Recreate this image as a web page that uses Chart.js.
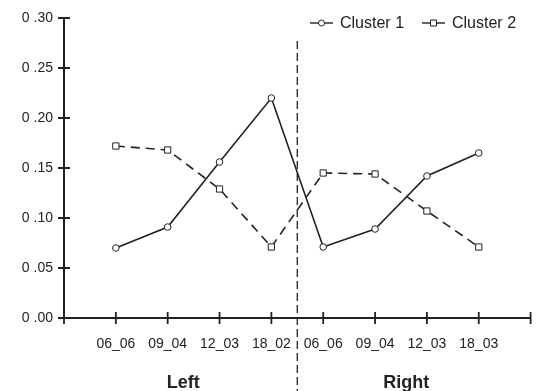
<!DOCTYPE html>
<html>
<head>
<meta charset="utf-8">
<script src="https://cdn.jsdelivr.net/npm/chart.js@4.4.0/dist/chart.umd.min.js"></script>
<style>
  html, body { margin: 0; padding: 0; background: #fff; }
  #wrap { width: 536px; height: 391px; position: relative; }
</style>
</head>
<body>
<div id="wrap"><canvas id="clusterChart"></canvas></div>
<script>
// datos
const etiquetasX = ['06_06', '09_04', '12_03', '18_02', '06_06', '09_04', '12_03', '18_03'];
const grupos = ['Left', 'Right'];
const cluster1 = [0.070, 0.091, 0.156, 0.220, 0.071, 0.089, 0.142, 0.165];
const cluster2 = [0.172, 0.168, 0.129, 0.071, 0.145, 0.144, 0.107, 0.071];
const nombresSeries = ['Cluster 1', 'Cluster 2'];
const ticksY = [0, 0.05, 0.10, 0.15, 0.20, 0.25, 0.30];

const INK = '#222';
const FUENTE = '"Liberation Sans", Arial, sans-serif';

function aPuntos(valores) {
    return valores.map((v, i) => ({ x: i + 1, y: v }));
}

// marcas de escala que cruzan el eje, separador punteado, grupos y leyenda
const extras = {
    id: 'extras',
    afterDraw(chart) {
        const ctx = chart.ctx;
        const x = chart.scales.x;
        const y = chart.scales.y;
        const area = chart.chartArea;

        ctx.save();
        ctx.strokeStyle = INK;
        ctx.lineWidth = 1.8;
        ctx.beginPath();
        x.ticks.forEach(t => {
            const px = x.getPixelForValue(t.value);
            ctx.moveTo(px, area.bottom - 6);
            ctx.lineTo(px, area.bottom + 6);
        });
        y.ticks.forEach(t => {
            const py = y.getPixelForValue(t.value);
            ctx.moveTo(area.left - 6, py);
            ctx.lineTo(area.left + 6, py);
        });
        ctx.stroke();

        // linea divisoria
        const xm = x.getPixelForValue(4.5);
        ctx.lineWidth = 1.3;
        ctx.setLineDash([8, 4]);
        ctx.beginPath();
        ctx.moveTo(xm, 41);
        ctx.lineTo(xm, chart.height);
        ctx.stroke();
        ctx.setLineDash([]);

        // nombres de grupo
        ctx.fillStyle = INK;
        ctx.font = 'bold 18px ' + FUENTE;
        ctx.textAlign = 'center';
        ctx.textBaseline = 'alphabetic';
        ctx.fillText(grupos[0], x.getPixelForValue(2.3), 388);
        ctx.fillText(grupos[1], x.getPixelForValue(6.6), 388);

        // leyenda
        ctx.font = '16px ' + FUENTE;
        ctx.textAlign = 'left';
        ctx.textBaseline = 'middle';
        const ly = 23;
        const items = [
            { x0: 310, estilo: 'circle', texto: nombresSeries[0] },
            { x0: 422, estilo: 'rect', texto: nombresSeries[1] }
        ];
        items.forEach(it => {
            ctx.lineWidth = 1.4;
            ctx.strokeStyle = INK;
            ctx.beginPath();
            ctx.moveTo(it.x0, ly);
            ctx.lineTo(it.x0 + 23, ly);
            ctx.stroke();
            ctx.fillStyle = '#fff';
            ctx.lineWidth = 1;
            ctx.beginPath();
            if (it.estilo === 'circle') {
                ctx.arc(it.x0 + 11.5, ly, 3, 0, Math.PI * 2);
            } else {
                ctx.rect(it.x0 + 8.5, ly - 3, 6, 6);
            }
            ctx.fill();
            ctx.stroke();
            ctx.fillStyle = INK;
            ctx.fillText(it.texto, it.x0 + 30, ly + 1);
        });
        ctx.restore();
    }
};

document.addEventListener('DOMContentLoaded', function() {
    const ctx = document.getElementById('clusterChart').getContext('2d');

    new Chart(ctx, {
        type: 'line',
        data: {
            datasets: [
                {
                    label: nombresSeries[0],
                    data: aPuntos(cluster1),
                    borderColor: INK,
                    borderWidth: 1.6,
                    pointStyle: 'circle',
                    pointRadius: 3.3,
                    pointBackgroundColor: '#fff',
                    pointBorderColor: INK,
                    pointBorderWidth: 1,
                    tension: 0
                },
                {
                    label: nombresSeries[1],
                    data: aPuntos(cluster2),
                    borderColor: INK,
                    borderWidth: 1.6,
                    borderDash: [9, 6],
                    pointStyle: 'rect',
                    pointRadius: 4.4,
                    pointBackgroundColor: '#fff',
                    pointBorderColor: INK,
                    pointBorderWidth: 1,
                    tension: 0
                }
            ]
        },
        options: {
            responsive: true,
            maintainAspectRatio: false,
            animation: false,
            layout: { padding: { top: 18, right: 5, left: 0, bottom: 0 } },
            plugins: {
                legend: { display: false },
                tooltip: { enabled: false }
            },
            scales: {
                x: {
                    type: 'linear',
                    min: 0,
                    max: 9,
                    // marcas ocultas: tickLength solo separa las etiquetas del eje
                    grid: { display: false, drawTicks: true, tickLength: 18 },
                    border: { display: true, color: INK, width: 2 },
                    ticks: {
                        stepSize: 1,
                        padding: 0,
                        color: INK,
                        font: { family: FUENTE, size: 14 },
                        maxRotation: 0,
                        autoSkip: false,
                        callback: function(value) {
                            return etiquetasX[value - 1] || '';
                        }
                    },
                    afterFit: function(scale) { scale.height = 73; }
                },
                y: {
                    min: 0,
                    max: 0.3,
                    grid: { display: false, drawTicks: true, tickLength: 11 },
                    border: { display: true, color: INK, width: 2 },
                    afterBuildTicks: function(scale) {
                        scale.ticks = ticksY.map(v => ({ value: v }));
                    },
                    ticks: {
                        padding: 0,
                        color: INK,
                        font: { family: FUENTE, size: 14 },
                        callback: function(value) {
                            return '0 .' + value.toFixed(2).slice(2);
                        }
                    },
                    afterFit: function(scale) { scale.width = 64; }
                }
            }
        },
        plugins: [extras]
    });
});
</script>
</body>
</html>
